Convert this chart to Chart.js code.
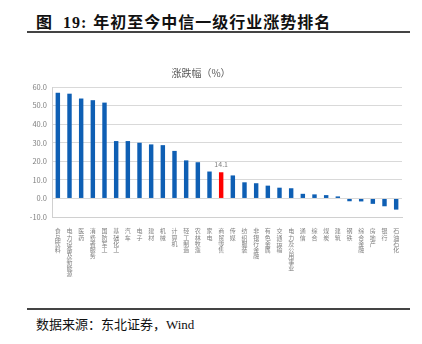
<!DOCTYPE html>
<html>
<head>
<meta charset="utf-8">
<script src="https://cdn.jsdelivr.net/npm/chart.js@4"></script>
<style>
body { margin:0; width:422px; height:344px; background:#fff; position:relative; overflow:hidden; font-family:"Liberation Serif","Noto Sans CJK SC",serif; }
#head { position:absolute; left:36px; top:9px; font-size:16px; font-weight:bold; color:#111; letter-spacing:1px; white-space:nowrap; }
#head .no { margin-left:10px; margin-right:6px; }
.rule { position:absolute; left:27px; width:383px; height:2px; background:#444; }
#wrap { position:absolute; left:0; top:40px; width:422px; height:262px; }
#foot { position:absolute; left:36px; top:314px; font-size:13px; color:#111; white-space:nowrap; }
</style>
</head>
<body>
<div id="head">图<span class="no">19:</span>年初至今中信一级行业涨势排名</div>
<div class="rule" style="top:31px"></div>
<div id="wrap"><canvas id="chart"></canvas></div>
<div class="rule" style="top:308px"></div>
<div id="foot">数据来源：东北证券，Wind</div>
<script>
// 中信一级行业 年初至今涨跌幅(%)
var industries = ['食品饮料','电力设备及新能源','医药','消费者服务','国防军工','基础化工','汽车','电子','建材','机械',
    '计算机','轻工制造','农林牧渔','家电','商贸零售','传媒','纺织服装','非银行金融','有色金属','交通运输',
    '电力及公用事业','通信','综合','煤炭','建筑','钢铁','综合金融','房地产','银行','石油石化'];
var changes = [56.9, 56.4, 53.8, 52.9, 51.6, 30.9, 30.9, 30.0, 29.1, 28.7,
    25.6, 20.5, 19.5, 14.5, 14.1, 12.4, 8.7, 8.2, 6.9, 5.8,
    5.5, 2.5, 2.2, 1.8, 1.1, -1.5, -1.6, -2.9, -4.2, -6.0];
var highlight = '商贸零售';
var yTicks = [60, 50, 40, 30, 20, 10, 0, -10];

var hiIdx = industries.indexOf(highlight);
var barColors = industries.map(function(n, i) { return i === hiIdx ? '#ff0000' : '#0e5fb4'; });

// vertical labels: one character per line
var stacked = industries.map(function(n) { return n.split(''); });

var cjk = '"Noto Sans CJK SC", sans-serif';

var valueLabel = {
    id: 'valueLabel',
    afterDatasetsDraw: function(chart) {
        var bar = chart.getDatasetMeta(0).data[hiIdx];
        if (!bar) return;
        var ctx = chart.ctx;
        ctx.save();
        ctx.font = '7px ' + cjk;
        ctx.fillStyle = '#7f7f7f';
        ctx.textAlign = 'center';
        ctx.textBaseline = 'bottom';
        ctx.fillText(changes[hiIdx].toFixed(1), bar.x, bar.y - 4);
        ctx.restore();
    }
};

new Chart(document.getElementById('chart'), {
    type: 'bar',
    data: {
        labels: stacked,
        datasets: [{ data: changes, backgroundColor: barColors, barPercentage: 0.38, categoryPercentage: 1 }]
    },
    options: {
        responsive: true, maintainAspectRatio: false, animation: false,
        layout: { padding: { left: 0, right: 20, top: 0, bottom: 22 } },
        plugins: {
            legend: { display: false },
            tooltip: { enabled: false },
            title: { display: true, text: '涨跌幅（%）', color: '#595959', font: { family: cjk, size: 10, weight: 'normal' }, padding: { top: 27, bottom: 8 } }
        },
        scales: {
            x: {
                grid: { display: false },
                border: { color: '#d0d0d0' },
                ticks: { color: '#7f7f7f', font: { family: cjk, size: 6, lineHeight: 1.02 }, maxRotation: 0, minRotation: 0, autoSkip: false, padding: 3 }
            },
            y: {
                min: -10, max: 60,
                afterFit: function(s) { s.width = 52; },
                afterBuildTicks: function(s) { s.ticks = yTicks.map(function(v) { return { value: v }; }); },
                grid: { color: '#d9d9d9', drawTicks: false },
                border: { color: '#d0d0d0' },
                ticks: { color: '#7f7f7f', font: { family: cjk, size: 7.5 }, padding: 5, callback: function(v) { return v.toFixed(1); } }
            }
        }
    },
    plugins: [valueLabel]
});
</script>
</body>
</html>
